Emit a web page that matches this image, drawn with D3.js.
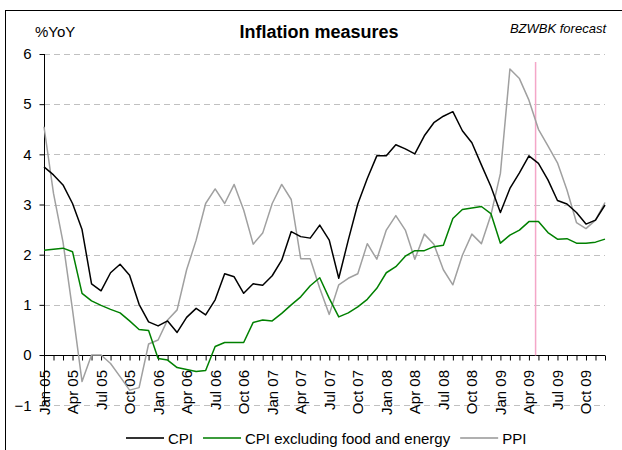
<!DOCTYPE html>
<html><head><meta charset="utf-8">
<script src="https://cdn.jsdelivr.net/npm/d3@7/dist/d3.min.js"></script>
<style>
html,body{margin:0;padding:0;background:#fff;}
svg{display:block;font-family:"Liberation Sans",Arial,sans-serif;}
</style></head>
<body><svg id="c" width="622" height="450"></svg>
<script>
const months = ["Jan 05","Feb 05","Mar 05","Apr 05","May 05","Jun 05","Jul 05","Aug 05","Sep 05","Oct 05","Nov 05","Dec 05",
"Jan 06","Feb 06","Mar 06","Apr 06","May 06","Jun 06","Jul 06","Aug 06","Sep 06","Oct 06","Nov 06","Dec 06",
"Jan 07","Feb 07","Mar 07","Apr 07","May 07","Jun 07","Jul 07","Aug 07","Sep 07","Oct 07","Nov 07","Dec 07",
"Jan 08","Feb 08","Mar 08","Apr 08","May 08","Jun 08","Jul 08","Aug 08","Sep 08","Oct 08","Nov 08","Dec 08",
"Jan 09","Feb 09","Mar 09","Apr 09","May 09","Jun 09","Jul 09","Aug 09","Sep 09","Oct 09","Nov 09","Dec 09"];
const tickLabels = ["Jan 05","Apr 05","Jul 05","Oct 05","Jan 06","Apr 06","Jul 06","Oct 06","Jan 07","Apr 07","Jul 07","Oct 07",
"Jan 08","Apr 08","Jul 08","Oct 08","Jan 09","Apr 09","Jul 09","Oct 09"];
const cpi = [3.75,3.59,3.39,3.02,2.5,1.42,1.28,1.64,1.81,1.59,1.01,0.66,
0.58,0.68,0.45,0.75,0.93,0.80,1.10,1.62,1.56,1.23,1.42,1.39,
1.58,1.89,2.46,2.36,2.33,2.59,2.29,1.53,2.29,3.01,3.52,3.97,
3.97,4.19,4.11,4.01,4.37,4.63,4.76,4.85,4.47,4.23,3.79,3.36,
2.84,3.32,3.63,3.97,3.82,3.49,3.08,3.01,2.84,2.61,2.69,2.99];
const cpiCore = [2.09,2.11,2.13,2.06,1.23,1.08,0.99,0.91,0.84,0.68,0.51,0.49,
-0.07,-0.10,-0.25,-0.29,-0.33,-0.31,0.17,0.25,0.25,0.25,0.65,0.70,
0.68,0.83,1.0,1.16,1.38,1.54,1.13,0.76,0.84,0.96,1.11,1.33,
1.64,1.76,1.97,2.08,2.08,2.16,2.19,2.72,2.90,2.93,2.96,2.82,
2.23,2.39,2.49,2.66,2.66,2.44,2.31,2.32,2.23,2.23,2.25,2.31];
const ppi = [4.55,3.22,2.25,0.9,-0.53,0.0,0.0,-0.17,-0.43,-0.7,-0.65,0.22,
0.30,0.70,0.90,1.70,2.29,3.02,3.31,3.02,3.40,2.89,2.21,2.43,
3.02,3.40,3.10,1.92,1.92,1.33,0.81,1.40,1.53,1.62,2.22,1.91,
2.49,2.78,2.49,1.91,2.41,2.21,1.70,1.40,1.99,2.41,2.22,2.79,
3.62,5.70,5.51,5.08,4.50,4.17,3.83,3.29,2.64,2.52,2.69,3.04];
const yTicks = [-1,0,1,2,3,4,5,6];
const forecastStart = 51.7; // between Apr 09 and May 09
const seriesNames = ["CPI","CPI excluding food and energy","PPI"];
const seriesColors = ["#000000","#008000","#a0a0a0"];
const legendColors = ["#333333","#3c9c3c","#b0b0b0"];

const svg = d3.select("#c");
const x = d3.scaleLinear().domain([0, months.length-1]).range([44, 605]);
const y = d3.scaleLinear().domain([-1, 6]).range([405.2, 54]);

// frame (top & left visible)
svg.append("rect").attr("x",5.5).attr("y",10.5).attr("width",640).attr("height",460)
  .attr("fill","none").attr("stroke","#000").attr("stroke-width",1);

// gridlines
svg.append("g").selectAll("line").data(yTicks.filter(d=>d!==0)).join("line")
  .attr("x1",44).attr("x2",605).attr("y1",d=>Math.round(y(d))+0.5).attr("y2",d=>Math.round(y(d))+0.5)
  .attr("stroke","#c0c0c0").attr("stroke-width",1).attr("stroke-dasharray","6,4");

// y axis
const yAxis = d3.axisLeft(y).tickValues(yTicks).tickSize(5).tickPadding(8).tickFormat(d3.format("d"));
const gy = svg.append("g").attr("transform","translate(44.5,0)").call(yAxis);
gy.select(".domain").attr("d",`M0,${y(6)}V${y(-1)}`).attr("stroke","#000");
gy.selectAll(".tick line").attr("stroke","#000");
gy.selectAll("text").attr("font-size",15).attr("fill","#000").attr("font-family","Liberation Sans, Arial, sans-serif");

// x axis at 0
const y0 = Math.round(y(0))+0.5;
const xAxis = d3.axisBottom(x).tickValues(d3.range(months.length)).tickSize(5).tickFormat("");
const gx = svg.append("g").attr("transform",`translate(0,${y0})`).call(xAxis);
gx.select(".domain").attr("d",`M${x(0)},0H${x(months.length-1)}`).attr("stroke","#000");
gx.selectAll(".tick line").attr("stroke","#000");

// x labels
svg.append("g").selectAll("text").data(tickLabels).join("text")
  .attr("transform",d=>`translate(${x(months.indexOf(d))+5.5},370) rotate(-90)`)
  .attr("text-anchor","end").attr("font-size",15).attr("fill","#000")
  .text(d=>d);

// forecast line
svg.append("line").attr("x1",x(forecastStart)).attr("x2",x(forecastStart))
  .attr("y1",62).attr("y2",y0).attr("stroke","#f4a6c8").attr("stroke-width",1.5);

// series
const line = d3.line().x((d,i)=>x(i)).y(d=>y(d));
const allSeries = [ppi, cpiCore, cpi];
const allColors = [seriesColors[2], seriesColors[1], seriesColors[0]];
allSeries.forEach((s,k)=>{
  svg.append("path").datum(s).attr("d",line).attr("fill","none")
    .attr("stroke",allColors[k]).attr("stroke-width",1.5).attr("stroke-linejoin","round");
});

// titles
svg.append("text").attr("x",35).attr("y",37).attr("font-size",15).text("%YoY");
svg.append("text").attr("x",319).attr("y",38).attr("text-anchor","middle").attr("font-size",18)
  .attr("font-weight","bold").text("Inflation measures");
svg.append("text").attr("x",606).attr("y",33).attr("text-anchor","end").attr("font-size",13)
  .attr("font-style","italic").text("BZWBK forecast");

// legend
const lg = svg.append("g");
let lx = 126; const ly = 438;
seriesNames.forEach((n,k)=>{
  lg.append("line").attr("x1",lx).attr("x2",lx+38).attr("y1",ly).attr("y2",ly)
    .attr("stroke",legendColors[k]).attr("stroke-width",2);
  const t = lg.append("text").attr("x",lx+42).attr("y",ly+5.5).attr("font-size",15).text(n);
  lx += 42 + t.node().getComputedTextLength() + 10;
});
</script></body></html>
